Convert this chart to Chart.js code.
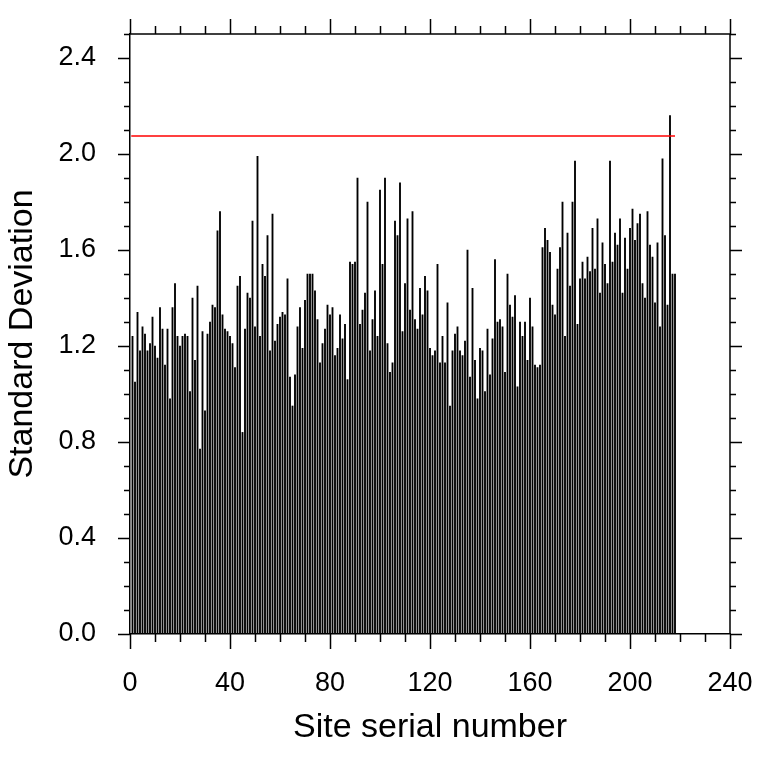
<!DOCTYPE html>
<html>
<head>
<meta charset="utf-8">
<script src="https://cdn.jsdelivr.net/npm/chart.js@4.4.0/dist/chart.umd.min.js"></script>
<style>
html, body { margin: 0; padding: 0; background: #fff; }
#wrap { width: 760px; height: 760px; }
</style>
</head>
<body>
<div id="wrap"><canvas id="sdChart" width="760" height="760"></canvas></div>
<script>
// standard deviation per site, site serial numbers 1..218
const sdValues = [
    1.24, 1.05, 1.34, 1.18, 1.28, 1.25, 1.18, 1.21, 1.32, 1.20,
    1.15, 1.36, 1.27, 1.12, 1.27, 0.98, 1.36, 1.46, 1.24, 1.20,
    1.24, 1.25, 1.24, 1.01, 1.40, 1.14, 1.45, 0.77, 1.26, 0.93,
    1.25, 1.30, 1.37, 1.36, 1.68, 1.76, 1.33, 1.27, 1.26, 1.24,
    1.21, 1.11, 1.45, 1.49, 0.84, 1.27, 1.42, 1.40, 1.72, 1.28,
    1.99, 1.24, 1.54, 1.49, 1.66, 1.18, 1.75, 1.22, 1.29, 1.32,
    1.34, 1.33, 1.48, 1.07, 0.95, 1.08, 1.28, 1.36, 1.19, 1.39,
    1.50, 1.50, 1.50, 1.43, 1.31, 1.13, 1.21, 1.27, 1.37, 1.33,
    1.36, 1.16, 1.19, 1.33, 1.23, 1.29, 1.06, 1.55, 1.54, 1.55,
    1.90, 1.29, 1.35, 1.42, 1.80, 1.18, 1.31, 1.43, 1.24, 1.85,
    1.54, 1.90, 1.21, 1.09, 1.13, 1.72, 1.66, 1.88, 1.26, 1.46,
    1.73, 1.35, 1.76, 1.31, 1.27, 1.44, 1.33, 1.49, 1.43, 1.19,
    1.16, 1.18, 1.54, 1.13, 1.24, 1.13, 1.38, 0.95, 1.18, 1.25,
    1.28, 1.18, 1.16, 1.22, 1.60, 1.07, 1.44, 1.14, 0.98, 1.19,
    1.18, 1.01, 1.27, 1.08, 1.23, 1.56, 1.30, 1.31, 1.28, 1.09,
    1.50, 1.37, 1.32, 1.41, 1.03, 1.30, 1.24, 1.30, 1.14, 1.40,
    1.28, 1.12, 1.11, 1.12, 1.61, 1.69, 1.64, 1.59, 1.37, 1.33,
    1.52, 1.61, 1.80, 1.24, 1.67, 1.45, 1.80, 1.97, 1.29, 1.48,
    1.55, 1.48, 1.57, 1.51, 1.69, 1.52, 1.73, 1.42, 1.63, 1.54,
    1.46, 1.97, 1.55, 1.67, 1.62, 1.73, 1.42, 1.65, 1.52, 1.69,
    1.77, 1.64, 1.71, 1.75, 1.46, 1.40, 1.76, 1.62, 1.57, 1.38,
    1.63, 1.28, 1.98, 1.66, 1.37, 2.16, 1.50, 1.50
];
const siteIds = sdValues.map((v, i) => i + 1);

// red reference level and the range it spans
const refLevel = 2.075;
const refRange = [0.5, 218];

const xTickLabels = [0, 40, 80, 120, 160, 200, 240];
const yTickLabels = ['0.0', '0.4', '0.8', '1.2', '1.6', '2.0', '2.4'];

const fontFamily = "'Liberation Sans', Arial, Helvetica, sans-serif";

// ticks on all four sides, pointing outwards, long ones at labelled values
const boxTicks = {
    id: 'boxTicks',
    afterDraw(chart) {
        const { ctx, chartArea: a, scales: { x, y } } = chart;
        ctx.save();
        ctx.strokeStyle = '#000';
        ctx.lineWidth = 1.5;
        ctx.beginPath();
        ctx.moveTo(a.left, a.top);
        ctx.lineTo(a.right, a.top);
        ctx.lineTo(a.right, a.bottom);
        x.ticks.forEach(t => {
            const px = Math.round(x.getPixelForValue(t.value)) + 0.5;
            const len = xTickLabels.includes(Math.round(t.value)) ? 15 : 8;
            ctx.moveTo(px, a.bottom);
            ctx.lineTo(px, a.bottom + len);
            ctx.moveTo(px, a.top);
            ctx.lineTo(px, a.top - len);
        });
        y.ticks.forEach(t => {
            const py = Math.round(y.getPixelForValue(t.value)) + 0.5;
            const len = yTickLabels.includes(t.value.toFixed(1)) ? 12 : 6;
            ctx.moveTo(a.left, py);
            ctx.lineTo(a.left - len, py);
            ctx.moveTo(a.right, py);
            ctx.lineTo(a.right + len, py);
        });
        ctx.stroke();
        ctx.restore();
    }
};

const ctx = document.getElementById('sdChart').getContext('2d');
const sdChart = new Chart(ctx, {
    type: 'bar',
    data: {
        datasets: [{
            label: 'Standard Deviation',
            data: siteIds.map((id, i) => ({ x: id, y: sdValues[i] })),
            backgroundColor: '#000',
            borderWidth: 0,
            barThickness: 1.2,
            order: 2
        }, {
            type: 'line',
            label: 'Reference',
            data: refRange.map(v => ({ x: v, y: refLevel })),
            borderColor: '#ff0000',
            borderWidth: 1.5,
            pointRadius: 0,
            fill: false,
            order: 1
        }]
    },
    options: {
        responsive: false,
        animation: false,
        layout: {
            padding: { left: 0, right: 30, top: 34, bottom: 0 }
        },
        plugins: {
            legend: { display: false },
            tooltip: { enabled: false }
        },
        scales: {
            x: {
                type: 'linear',
                offset: false,
                min: 0,
                max: 240,
                grid: { display: true, drawOnChartArea: false, drawTicks: false },
                border: { display: true, color: '#000', width: 1.5 },
                ticks: {
                    stepSize: 10,
                    autoSkip: false,
                    maxRotation: 0,
                    padding: 33,
                    color: '#000',
                    font: { family: fontFamily, size: 27 },
                    callback: function(value) {
                        return xTickLabels.includes(Math.round(value)) ? String(Math.round(value)) : '';
                    }
                },
                title: {
                    display: true,
                    text: 'Site serial number',
                    color: '#000',
                    font: { family: fontFamily, size: 34 },
                    padding: { top: 0, bottom: 12 }
                },
                afterFit: function(scale) {
                    scale.height = 126;
                    scale.paddingLeft = 0;
                    scale.paddingRight = 0;
                }
            },
            y: {
                min: 0,
                max: 2.5,
                grid: { display: true, drawOnChartArea: false, drawTicks: false },
                border: { display: true, color: '#000', width: 1.5 },
                ticks: {
                    stepSize: 0.1,
                    autoSkip: false,
                    padding: 34,
                    color: '#000',
                    font: { family: fontFamily, size: 27 },
                    callback: function(value) {
                        const s = value.toFixed(1);
                        return yTickLabels.includes(s) ? s : '';
                    }
                },
                title: {
                    display: true,
                    text: 'Standard Deviation',
                    color: '#000',
                    font: { family: fontFamily, size: 34 },
                    padding: { top: 2, bottom: 0 }
                },
                afterFit: function(scale) {
                    scale.width = 130;
                    scale.paddingTop = 0;
                    scale.paddingBottom = 0;
                }
            }
        }
    },
    plugins: [boxTicks]
});
</script>
</body>
</html>
